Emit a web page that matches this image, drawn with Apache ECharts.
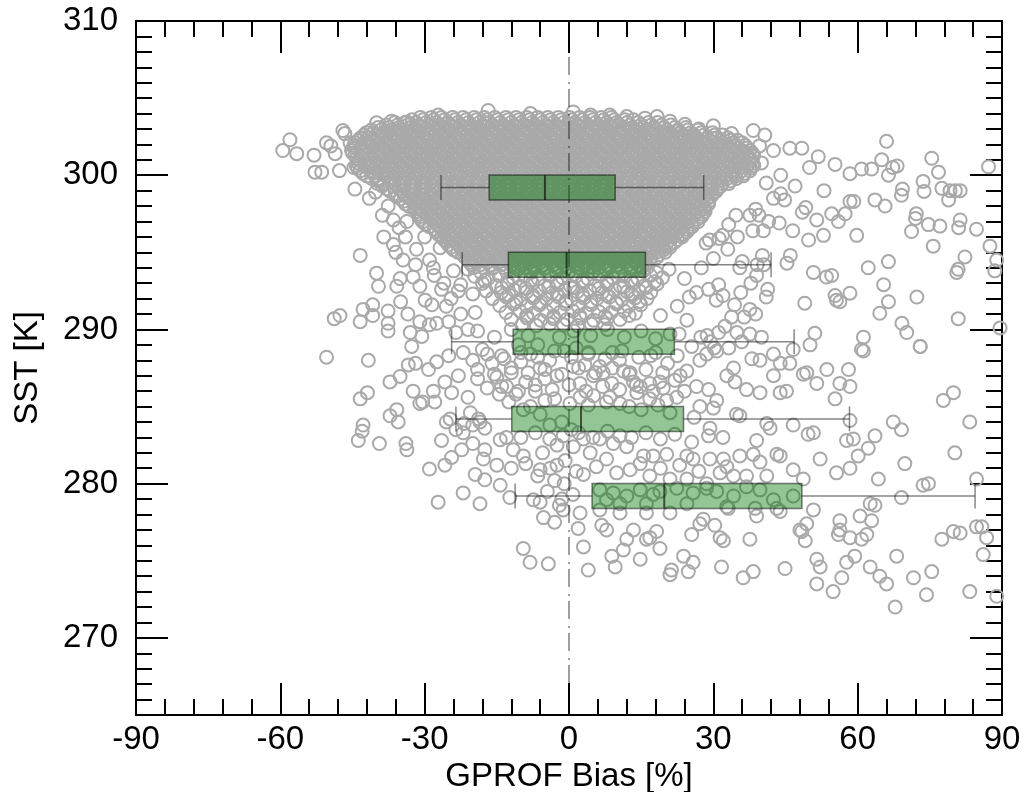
<!DOCTYPE html>
<html>
<head>
<meta charset="utf-8">
<title>GPROF bias vs SST</title>
<script src="https://cdn.jsdelivr.net/npm/echarts@6/dist/echarts.min.js"></script>
<style>
  html, body { margin: 0; padding: 0; background: #fff; }
  #chart { width: 1024px; height: 792px; }
</style>
</head>
<body>
<div id="chart"></div>
<script>
// axis ticks
var xTicks = [-90, -60, -30, 0, 30, 60, 90];
var yTicks = [270, 280, 290, 300, 310];
var zeroLine = [[0, 265], [0, 310]];

// box statistics per SST bin (bias %)
var boxSST = [299.2, 294.2, 289.2, 284.2, 279.2];
var whiskerLow = [-26.6, -22.2, -24.4, -23.5, -11.2];
var q1 = [-16.6, -12.6, -11.6, -11.9, 4.8];
var median = [-5.0, -0.5, 1.9, 2.5, 19.8];
var q3 = [9.6, 15.9, 21.9, 23.8, 48.4];
var whiskerHigh = [28.0, 42.0, 46.8, 58.3, 84.4];

// dense cloud, row by row: SST value and the biases in that row
var coreSST = [303.75, 303.42, 303.09, 302.76, 302.43, 302.10, 301.77, 301.44, 301.11, 300.78,
  300.45, 300.12, 299.79, 299.46, 299.13, 298.80, 298.47, 298.14, 297.81, 297.48,
  297.15, 296.82, 296.49, 296.16, 295.83, 295.50, 295.17, 294.84, 294.51, 294.18];
var coreBias = [
  [-30.9, -28.6, -26.5, -24.2, -22.0, -19.7, -17.6, -15.4, -13.1, -11.0, -8.8, -6.5, -4.4, -2.2, 0.1, 2.2, 4.4, 6.7, 8.8],
  [-36.2, -34.1, -31.8, -29.7, -27.5, -25.2, -23.1, -20.9, -18.6, -16.5, -14.3, -12.0, -9.9, -7.7, -5.4, -3.3, -1.1, 1.2, 3.3, 5.5, 7.8, 9.9, 12.1, 14.4, 16.5, 18.4],
  [-39.7, -37.4, -35.3, -33.0, -30.8, -28.5, -26.4, -24.2, -21.9, -19.8, -17.6, -15.3, -13.2, -11.0, -8.7, -6.6, -4.4, -2.1, 0.0, 2.2, 4.5, 6.6, 8.8, 11.1, 13.2, 15.4, 17.7, 19.8, 22.0, 24.3],
  [-42.1, -40.6, -38.5, -36.2, -34.1, -31.9, -29.6, -27.5, -25.3, -23.0, -20.9, -18.7, -16.4, -14.3, -12.1, -9.8, -7.7, -5.5, -3.2, -1.1, 1.1, 3.4, 5.5, 7.7, 10.0, 12.1, 14.3, 16.6, 18.7, 20.9, 23.2, 25.3, 27.5, 29.8],
  [-43.2, -41.7, -39.6, -37.3, -35.2, -33.0, -30.7, -28.6, -26.4, -24.1, -22.0, -19.8, -17.5, -15.4, -13.2, -10.9, -8.8, -6.6, -4.3, -2.2, 0.0, 2.3, 4.4, 6.6, 8.9, 11.0, 13.2, 15.5, 17.6, 19.8, 22.1, 24.2, 26.4, 28.7, 30.8, 33.0],
  [-44.4, -42.5, -40.7, -38.4, -36.3, -34.1, -31.8, -29.7, -27.5, -25.2, -23.1, -20.9, -18.6, -16.5, -14.3, -12.0, -9.9, -7.7, -5.4, -3.3, -1.1, 1.2, 3.3, 5.5, 7.8, 9.9, 12.1, 14.4, 16.5, 18.7, 21.0, 23.1, 25.3, 27.6, 29.7, 31.9, 34.2, 36.0],
  [-44.6, -41.8, -39.5, -37.4, -35.2, -32.9, -30.8, -28.6, -26.3, -24.2, -22.0, -19.7, -17.6, -15.4, -13.1, -11.0, -8.8, -6.5, -4.4, -2.2, 0.1, 2.2, 4.4, 6.7, 8.8, 11.0, 13.3, 15.4, 17.6, 19.9, 22.0, 24.2, 26.5, 28.6, 30.8, 33.1, 35.2, 37.0],
  [-45.0, -42.9, -40.6, -38.5, -36.3, -34.0, -31.9, -29.7, -27.4, -25.3, -23.1, -20.8, -18.7, -16.5, -14.2, -12.1, -9.9, -7.6, -5.5, -3.3, -1.0, 1.1, 3.3, 5.6, 7.7, 9.9, 12.2, 14.3, 16.5, 18.8, 20.9, 23.1, 25.4, 27.5, 29.7, 32.0, 34.1, 36.3, 38.1],
  [-44.1, -41.8, -39.7, -37.4, -35.2, -33.1, -30.8, -28.6, -26.5, -24.2, -22.0, -19.9, -17.6, -15.4, -13.3, -11.0, -8.8, -6.7, -4.4, -2.2, -0.1, 2.2, 4.4, 6.5, 8.8, 11.0, 13.1, 15.4, 17.6, 19.7, 22.0, 24.2, 26.3, 28.6, 30.8, 32.9, 35.2, 37.6],
  [-43.8, -40.7, -38.6, -36.3, -34.1, -32.0, -29.7, -27.5, -25.4, -23.1, -20.9, -18.8, -16.5, -14.3, -12.2, -9.9, -7.7, -5.6, -3.3, -1.1, 1.0, 3.3, 5.5, 7.6, 9.9, 12.1, 14.2, 16.5, 18.7, 20.8, 23.1, 25.3, 27.4, 29.7, 31.9, 34.0, 36.3, 38.2],
  [-43.9, -41.7, -39.6, -37.3, -35.1, -33.0, -30.7, -28.5, -26.4, -24.1, -21.9, -19.8, -17.5, -15.3, -13.2, -10.9, -8.7, -6.6, -4.3, -2.1, 0.0, 2.3, 4.5, 6.6, 8.9, 11.1, 13.2, 15.5, 17.7, 19.8, 22.1, 24.3, 26.4, 28.7, 30.9, 33.0, 35.3, 37.7],
  [-42.8, -40.8, -38.5, -36.4, -34.2, -31.9, -29.8, -27.6, -25.3, -23.2, -21.0, -18.7, -16.6, -14.4, -12.1, -10.0, -7.8, -5.5, -3.4, -1.2, 1.1, 3.2, 5.4, 7.7, 9.8, 12.0, 14.3, 16.4, 18.6, 20.9, 23.0, 25.2, 27.5, 29.6, 31.8, 34.1, 36.4],
  [-41.0, -39.6, -37.5, -35.2, -33.1, -30.9, -28.6, -26.5, -24.3, -22.0, -19.9, -17.7, -15.4, -13.3, -11.1, -8.8, -6.7, -4.5, -2.2, -0.1, 2.1, 4.4, 6.5, 8.7, 11.0, 13.1, 15.3, 17.6, 19.7, 21.9, 24.2, 26.3, 28.5, 30.8, 32.9, 34.8],
  [-39.8, -38.5, -36.3, -34.2, -31.9, -29.7, -27.6, -25.4, -23.1, -21.0, -18.8, -16.5, -14.4, -12.2, -9.9, -7.8, -5.6, -3.3, -1.2, 1.0, 3.3, 5.4, 7.6, 9.9, 12.0, 14.2, 16.5, 18.6, 20.8, 23.1, 25.2, 27.4, 29.7, 31.8, 33.2],
  [-37.9, -35.3, -33.1, -30.8, -28.6, -26.5, -24.2, -22.0, -19.9, -17.6, -15.4, -13.3, -11.0, -8.8, -6.7, -4.4, -2.2, -0.1, 2.2, 4.4, 6.5, 8.8, 11.0, 13.1, 15.4, 17.6, 19.7, 22.0, 24.2, 26.3, 28.6, 30.9],
  [-36.1, -34.2, -32.0, -29.7, -27.6, -25.4, -23.1, -21.0, -18.8, -16.5, -14.4, -12.2, -9.9, -7.8, -5.6, -3.3, -1.2, 1.0, 3.3, 5.4, 7.6, 9.9, 12.0, 14.2, 16.5, 18.6, 20.8, 23.1, 25.2, 27.4, 29.8],
  [-35.0, -33.0, -30.8, -28.5, -26.4, -24.2, -21.9, -19.8, -17.6, -15.3, -13.2, -11.0, -8.7, -6.6, -4.4, -2.1, 0.0, 2.2, 4.5, 6.6, 8.8, 11.1, 13.2, 15.4, 17.7, 19.8, 22.0, 24.3, 26.4, 28.7],
  [-34.0, -31.9, -29.7, -27.4, -25.3, -23.1, -20.8, -18.7, -16.5, -14.2, -12.1, -9.9, -7.6, -5.5, -3.3, -1.0, 1.1, 3.3, 5.6, 7.7, 9.9, 12.2, 14.3, 16.5, 18.8, 20.9, 23.1, 25.4, 27.5, 29.0],
  [-32.1, -30.8, -28.6, -26.3, -24.2, -22.0, -19.7, -17.6, -15.4, -13.1, -11.0, -8.8, -6.5, -4.4, -2.2, 0.1, 2.2, 4.4, 6.7, 8.8, 11.0, 13.3, 15.4, 17.6, 19.9, 22.0, 24.2, 26.5, 28.2],
  [-31.1, -29.7, -27.5, -25.2, -23.1, -20.9, -18.6, -16.5, -14.3, -12.0, -9.9, -7.7, -5.4, -3.3, -1.1, 1.2, 3.3, 5.5, 7.8, 9.9, 12.1, 14.4, 16.5, 18.7, 21.0, 23.1, 25.3, 27.7],
  [-30.8, -28.5, -26.4, -24.2, -21.9, -19.8, -17.6, -15.3, -13.2, -11.0, -8.7, -6.6, -4.4, -2.1, 0.0, 2.2, 4.5, 6.6, 8.8, 11.1, 13.2, 15.4, 17.7, 19.8, 22.0, 24.3, 26.6],
  [-29.8, -27.5, -25.3, -23.0, -20.9, -18.7, -16.4, -14.3, -12.1, -9.8, -7.7, -5.5, -3.2, -1.1, 1.1, 3.4, 5.5, 7.7, 10.0, 12.1, 14.3, 16.6, 18.7, 20.9, 23.2, 25.6],
  [-28.0, -26.4, -24.1, -22.0, -19.8, -17.5, -15.4, -13.2, -10.9, -8.8, -6.6, -4.3, -2.2, 0.0, 2.3, 4.4, 6.6, 8.9, 11.0, 13.2, 15.5, 17.6, 19.8, 22.1, 24.6],
  [-27.1, -25.2, -23.1, -20.9, -18.6, -16.5, -14.3, -12.0, -9.9, -7.7, -5.4, -3.3, -1.1, 1.2, 3.3, 5.5, 7.8, 9.9, 12.1, 14.4, 16.5, 18.7, 21.0, 23.6],
  [-26.0, -24.2, -22.0, -19.7, -17.6, -15.4, -13.1, -11.0, -8.8, -6.5, -4.4, -2.2, 0.1, 2.2, 4.4, 6.7, 8.8, 11.0, 13.3, 15.4, 17.6, 19.9, 22.5],
  [-25.1, -23.0, -20.8, -18.7, -16.5, -14.2, -12.1, -9.9, -7.6, -5.5, -3.3, -1.0, 1.1, 3.3, 5.6, 7.7, 9.9, 12.2, 14.3, 16.5, 18.8, 20.9],
  [-24.0, -21.9, -19.8, -17.5, -15.4, -13.2, -10.9, -8.8, -6.6, -4.3, -2.2, 0.0, 2.3, 4.4, 6.6, 8.9, 11.0, 13.2, 15.5, 17.6, 19.7],
  [-22.1, -20.8, -18.6, -16.5, -14.3, -12.0, -9.9, -7.7, -5.4, -3.3, -1.1, 1.2, 3.3, 5.5, 7.8, 9.9, 12.1, 14.4, 16.5, 18.6],
  [-21.0, -19.7, -17.6, -15.3, -13.2, -11.0, -8.7, -6.6, -4.4, -2.1, 0.0, 2.2, 4.5, 6.6, 8.8, 11.1, 13.2, 15.4, 16.9],
  [-20.2, -18.5, -16.4, -14.1, -12.0, -9.8, -7.5, -5.4, -3.2, -0.9, 1.2, 3.4, 5.7, 7.8, 10.0, 12.3, 14.4, 16.0]
];

// second set of rows in the dense cloud, between the rows above
var coreSST2 = [303.59, 303.26, 302.93, 302.60, 302.27, 301.94, 301.61, 301.28, 300.95, 300.62,
  300.29, 299.96, 299.63, 299.30, 298.97, 298.64, 298.31, 297.98, 297.65, 297.32,
  296.99, 296.66, 296.33, 296.00, 295.67, 295.34, 295.01, 294.68, 294.35, 294.02];
var coreBias2 = [
  [-32.6, -30.3, -28.1, -25.9, -23.7, -21.4, -19.2, -17.0, -14.8, -12.6, -10.4, -8.2, -6.0, -3.8, -1.6, 0.6, 2.8, 5.0, 7.2, 9.4, 11.6, 13.4],
  [-38.0, -35.6, -33.5, -31.2, -29.1, -26.9, -24.6, -22.5, -20.3, -18.0, -15.9, -13.7, -11.4, -9.3, -7.1, -4.8, -2.7, -0.5, 1.8, 3.9, 6.1, 8.4, 10.5, 12.7, 15.0, 17.1, 19.3, 21.2],
  [-41.1, -39.1, -36.8, -34.7, -32.5, -30.2, -28.1, -25.9, -23.6, -21.5, -19.3, -17.0, -14.9, -12.7, -10.4, -8.3, -6.1, -3.8, -1.7, 0.5, 2.8, 4.9, 7.1, 9.4, 11.5, 13.7, 16.0, 18.1, 20.3, 22.6, 24.7, 26.8],
  [-42.6, -40.0, -37.9, -35.7, -33.4, -31.3, -29.1, -26.8, -24.7, -22.5, -20.2, -18.1, -15.9, -13.6, -11.5, -9.3, -7.0, -4.9, -2.7, -0.4, 1.7, 3.9, 6.2, 8.3, 10.5, 12.8, 14.9, 17.1, 19.4, 21.5, 23.7, 26.0, 28.1, 30.3, 31.9],
  [-43.8, -41.1, -38.9, -36.8, -34.6, -32.3, -30.2, -28.0, -25.7, -23.6, -21.4, -19.1, -17.0, -14.8, -12.5, -10.4, -8.2, -5.9, -3.8, -1.6, 0.7, 2.8, 5.0, 7.3, 9.4, 11.6, 13.9, 16.0, 18.2, 20.5, 22.6, 24.8, 27.1, 29.2, 31.4, 33.6, 35.0],
  [-44.7, -42.0, -40.1, -37.9, -35.7, -33.5, -31.3, -29.1, -26.9, -24.7, -22.5, -20.3, -18.1, -15.9, -13.7, -11.5, -9.3, -7.1, -4.9, -2.7, -0.5, 1.7, 3.9, 6.1, 8.3, 10.5, 12.7, 14.9, 17.1, 19.3, 21.5, 23.7, 25.9, 28.1, 30.3, 32.5, 34.7, 36.6],
  [-45.2, -43.2, -41.2, -39.0, -36.8, -34.6, -32.4, -30.2, -28.0, -25.8, -23.6, -21.4, -19.2, -17.0, -14.8, -12.6, -10.4, -8.2, -6.0, -3.8, -1.6, 0.6, 2.8, 5.0, 7.2, 9.4, 11.6, 13.8, 16.0, 18.2, 20.4, 22.6, 24.8, 27.0, 29.2, 31.4, 33.6, 35.8, 37.6],
  [-44.5, -42.3, -40.1, -37.9, -35.7, -33.5, -31.3, -29.1, -26.9, -24.7, -22.5, -20.3, -18.1, -15.9, -13.7, -11.5, -9.3, -7.1, -4.9, -2.7, -0.5, 1.7, 3.9, 6.1, 8.3, 10.5, 12.7, 14.9, 17.1, 19.3, 21.5, 23.7, 25.9, 28.1, 30.3, 32.5, 34.7, 36.9, 38.4],
  [-43.6, -41.3, -39.1, -36.9, -34.7, -32.5, -30.3, -28.1, -25.9, -23.7, -21.5, -19.3, -17.1, -14.9, -12.7, -10.5, -8.3, -6.1, -3.9, -1.7, 0.5, 2.7, 4.9, 7.1, 9.3, 11.5, 13.7, 15.9, 18.1, 20.3, 22.5, 24.7, 26.9, 29.1, 31.3, 33.5, 35.7, 37.9],
  [-44.2, -42.1, -40.0, -37.8, -35.6, -33.4, -31.2, -29.0, -26.8, -24.6, -22.4, -20.2, -18.0, -15.8, -13.6, -11.4, -9.2, -7.0, -4.8, -2.6, -0.4, 1.8, 4.0, 6.2, 8.4, 10.6, 12.8, 15.0, 17.2, 19.4, 21.6, 23.8, 26.0, 28.2, 30.4, 32.6, 34.8, 37.0, 38.4],
  [-43.4, -41.1, -38.9, -36.7, -34.5, -32.3, -30.1, -27.9, -25.7, -23.5, -21.3, -19.1, -16.9, -14.7, -12.5, -10.3, -8.1, -5.9, -3.7, -1.5, 0.7, 2.9, 5.1, 7.3, 9.5, 11.7, 13.9, 16.1, 18.3, 20.5, 22.7, 24.9, 27.1, 29.3, 31.5, 33.7, 35.9, 37.6],
  [-42.0, -40.2, -38.0, -35.8, -33.6, -31.4, -29.2, -27.0, -24.8, -22.6, -20.4, -18.2, -16.0, -13.8, -11.6, -9.4, -7.2, -5.0, -2.8, -0.6, 1.6, 3.8, 6.0, 8.2, 10.4, 12.6, 14.8, 17.0, 19.2, 21.4, 23.6, 25.8, 28.0, 30.2, 32.4, 34.6, 36.2],
  [-39.6, -36.9, -34.7, -32.5, -30.3, -28.1, -25.9, -23.7, -21.5, -19.3, -17.1, -14.9, -12.7, -10.5, -8.3, -6.1, -3.9, -1.7, 0.5, 2.7, 4.9, 7.1, 9.3, 11.5, 13.7, 15.9, 18.1, 20.3, 22.5, 24.7, 26.9, 29.1, 31.3, 33.5],
  [-38.8, -36.6, -34.4, -32.2, -30.0, -27.8, -25.6, -23.4, -21.2, -19.0, -16.8, -14.6, -12.4, -10.2, -8.0, -5.8, -3.6, -1.4, 0.8, 3.0, 5.2, 7.4, 9.6, 11.8, 14.0, 16.2, 18.4, 20.6, 22.8, 25.0, 27.2, 29.4, 31.6],
  [-37.2, -34.7, -32.5, -30.3, -28.1, -25.9, -23.7, -21.5, -19.3, -17.1, -14.9, -12.7, -10.5, -8.3, -6.1, -3.9, -1.7, 0.5, 2.7, 4.9, 7.1, 9.3, 11.5, 13.7, 15.9, 18.1, 20.3, 22.5, 24.7, 26.9, 29.1, 30.6],
  [-35.6, -33.6, -31.4, -29.2, -27.0, -24.8, -22.6, -20.4, -18.2, -16.0, -13.8, -11.6, -9.4, -7.2, -5.0, -2.8, -0.6, 1.6, 3.8, 6.0, 8.2, 10.4, 12.6, 14.8, 17.0, 19.2, 21.4, 23.6, 25.8, 28.0, 29.6],
  [-34.4, -32.4, -30.2, -28.0, -25.8, -23.6, -21.4, -19.2, -17.0, -14.8, -12.6, -10.4, -8.2, -6.0, -3.8, -1.6, 0.6, 2.8, 5.0, 7.2, 9.4, 11.6, 13.8, 16.0, 18.2, 20.4, 22.6, 24.8, 27.0, 29.0],
  [-33.2, -31.3, -29.1, -26.9, -24.7, -22.5, -20.3, -18.1, -15.9, -13.7, -11.5, -9.3, -7.1, -4.9, -2.7, -0.5, 1.7, 3.9, 6.1, 8.3, 10.5, 12.7, 14.9, 17.1, 19.3, 21.5, 23.7, 25.9, 28.1],
  [-31.6, -30.2, -28.0, -25.8, -23.6, -21.4, -19.2, -17.0, -14.8, -12.6, -10.4, -8.2, -6.0, -3.8, -1.6, 0.6, 2.8, 5.0, 7.2, 9.4, 11.6, 13.8, 16.0, 18.2, 20.4, 22.6, 24.8, 27.0, 28.3],
  [-30.9, -29.1, -26.9, -24.7, -22.5, -20.3, -18.1, -15.9, -13.7, -11.5, -9.3, -7.1, -4.9, -2.7, -0.5, 1.7, 3.9, 6.1, 8.3, 10.5, 12.7, 14.9, 17.1, 19.3, 21.5, 23.7, 25.9, 27.6],
  [-30.4, -28.0, -25.8, -23.6, -21.4, -19.2, -17.0, -14.8, -12.6, -10.4, -8.2, -6.0, -3.8, -1.6, 0.6, 2.8, 5.0, 7.2, 9.4, 11.6, 13.8, 16.0, 18.2, 20.4, 22.6, 24.8, 26.8],
  [-29.0, -26.9, -24.7, -22.5, -20.3, -18.1, -15.9, -13.7, -11.5, -9.3, -7.1, -4.9, -2.7, -0.5, 1.7, 3.9, 6.1, 8.3, 10.5, 12.7, 14.9, 17.1, 19.3, 21.5, 23.7, 25.6],
  [-27.6, -25.8, -23.6, -21.4, -19.2, -17.0, -14.8, -12.6, -10.4, -8.2, -6.0, -3.8, -1.6, 0.6, 2.8, 5.0, 7.2, 9.4, 11.6, 13.8, 16.0, 18.2, 20.4, 22.6, 24.5],
  [-26.5, -24.7, -22.5, -20.3, -18.1, -15.9, -13.7, -11.5, -9.3, -7.1, -4.9, -2.7, -0.5, 1.7, 3.9, 6.1, 8.3, 10.5, 12.7, 14.9, 17.1, 19.3, 21.5, 23.5],
  [-25.5, -23.6, -21.4, -19.2, -17.0, -14.8, -12.6, -10.4, -8.2, -6.0, -3.8, -1.6, 0.6, 2.8, 5.0, 7.2, 9.4, 11.6, 13.8, 16.0, 18.2, 20.4, 22.0],
  [-24.5, -22.5, -20.3, -18.1, -15.9, -13.7, -11.5, -9.3, -7.1, -4.9, -2.7, -0.5, 1.7, 3.9, 6.1, 8.3, 10.5, 12.7, 14.9, 17.1, 19.3, 21.0],
  [-23.1, -21.4, -19.2, -17.0, -14.8, -12.6, -10.4, -8.2, -6.0, -3.8, -1.6, 0.6, 2.8, 5.0, 7.2, 9.4, 11.6, 13.8, 16.0, 18.2, 20.0],
  [-21.6, -20.3, -18.1, -15.9, -13.7, -11.5, -9.3, -7.1, -4.9, -2.7, -0.5, 1.7, 3.9, 6.1, 8.3, 10.5, 12.7, 14.9, 17.1, 18.3],
  [-20.6, -19.2, -17.0, -14.8, -12.6, -10.4, -8.2, -6.0, -3.8, -1.6, 0.6, 2.8, 5.0, 7.2, 9.4, 11.6, 13.8, 16.0],
  [-19.8, -17.9, -15.8, -13.6, -11.4, -9.2, -7.0, -4.8, -2.6, -0.4, 1.8, 4.0, 6.2, 8.4, 10.6, 12.8, 15.0, 16.3]
];

// narrowing part of the cloud below the second box [bias %, SST K]
var neckBand = [
  [-21.0, 293.9], [-18.3, 293.7], [-15.9, 293.95], [-13.0, 293.75], [-10.6, 293.9], [-7.9, 293.7], [-5.2, 293.95],
  [-2.8, 293.8], [-0.1, 293.7], [2.6, 293.95], [5.0, 293.75], [7.7, 293.9], [10.3, 293.7], [12.9, 293.95],
  [15.4, 293.8], [18.1, 293.7], [20.8, 293.9],
  [-19.6, 293.45], [-16.8, 293.3], [-14.5, 293.5], [-11.6, 293.35], [-9.2, 293.45], [-6.4, 293.3], [-3.9, 293.5],
  [-1.3, 293.35], [1.4, 293.45], [3.9, 293.3], [6.5, 293.5], [9.1, 293.35], [11.6, 293.45], [14.3, 293.3],
  [16.9, 293.5], [19.4, 293.35],
  [-17.5, 293.15], [-12.8, 293.1], [-8.0, 293.2], [-2.6, 293.1], [2.8, 293.15], [7.8, 293.1], [12.9, 293.2], [17.8, 293.1],
  [-22.5, 292.9], [-18.0, 293.0], [-15.2, 292.85], [-12.8, 292.95], [-10.1, 292.8], [-7.6, 293.0], [-5.0, 292.85],
  [-2.3, 292.95], [0.3, 292.8], [2.9, 293.0], [5.4, 292.85], [8.0, 292.95], [10.7, 292.8], [13.2, 293.0],
  [15.8, 292.85], [18.3, 292.95],
  [-14.0, 292.7], [-9.0, 292.65], [-4.2, 292.75], [1.0, 292.7], [6.2, 292.65], [11.4, 292.75], [16.0, 292.7],
  [-17.2, 292.5], [-14.1, 292.4], [-11.4, 292.55], [-8.8, 292.45], [-6.2, 292.5], [-3.5, 292.4], [-0.9, 292.55],
  [1.7, 292.45], [4.3, 292.5], [6.9, 292.4], [9.5, 292.55], [12.1, 292.45], [14.6, 292.5], [17.0, 292.4],
  [-12.5, 292.25], [-7.5, 292.2], [-2.5, 292.3], [2.8, 292.25], [7.9, 292.2], [13.0, 292.3],
  [-15.9, 292.0], [-13.0, 292.1], [-10.0, 291.95], [-7.4, 292.05], [-4.7, 292.0], [-2.1, 292.1], [0.5, 291.95],
  [3.1, 292.05], [5.8, 292.0], [8.4, 292.1], [11.0, 291.95], [13.7, 292.05], [16.2, 292.0],
  [-11.0, 291.8], [-5.8, 291.75], [-0.6, 291.85], [4.6, 291.8], [9.8, 291.75], [14.6, 291.8],
  [-14.4, 291.55], [-11.5, 291.65], [-8.8, 291.5], [-6.1, 291.6], [-3.3, 291.55], [-0.7, 291.65], [1.9, 291.5],
  [4.6, 291.6], [7.2, 291.55], [9.9, 291.65], [12.4, 291.5], [14.9, 291.6],
  [-13.1, 291.1], [-10.2, 291.2], [-7.4, 291.05], [-4.6, 291.15], [-1.9, 291.1], [0.8, 291.2], [3.5, 291.05],
  [6.2, 291.15], [8.8, 291.1], [11.5, 291.2], [13.8, 291.05],
  [-8.8, 290.9], [-3.2, 290.85], [2.2, 290.9], [7.5, 290.85], [12.5, 290.9],
  [-12.0, 290.65], [-8.7, 290.75], [-5.9, 290.6], [-3.2, 290.7], [-0.4, 290.65], [2.4, 290.75], [5.1, 290.6],
  [7.9, 290.7], [10.6, 290.65],
  [-9.8, 290.3], [-6.8, 290.25], [-4.0, 290.35], [-1.1, 290.3], [1.8, 290.25], [4.6, 290.35], [7.4, 290.3]
];

// crowded part around the third and fourth boxes [bias %, SST K]
var centreBand = [
  [-17.0, 288.4], [-13.5, 288.1], [-10.0, 288.5], [-6.5, 288.2], [-3.0, 288.6], [0.5, 288.2], [4.0, 288.5],
  [7.5, 288.1], [11.0, 288.6], [14.5, 288.2], [18.0, 288.5], [22.5, 288.3],
  [-19.0, 287.4], [-15.5, 287.1], [-12.0, 287.5], [-8.5, 287.2], [-5.0, 287.4], [-1.5, 287.1], [2.0, 287.5],
  [5.5, 287.2], [9.0, 287.5], [12.5, 287.1], [16.0, 287.4], [19.5, 287.2],
  [-14.0, 286.3], [-10.5, 286.0], [-7.0, 286.4], [-3.5, 286.1], [0.0, 286.4], [3.5, 286.0], [7.0, 286.3],
  [10.5, 286.1], [14.0, 286.4], [17.5, 286.0], [24.0, 286.0],
  [-12.5, 285.3], [-8.0, 285.0], [-5.0, 285.4], [4.0, 285.1], [8.5, 285.6], [12.5, 285.0], [18.5, 285.1],
  [-10.0, 283.0], [-7.0, 283.3], [-4.0, 282.9], [2.0, 283.3], [5.0, 283.0], [8.0, 283.4], [13.0, 283.0],
  [16.0, 283.3], [19.0, 282.9], [22.0, 283.2], [25.5, 282.7], [32.0, 283.0],
  [-12.0, 281.0], [-9.0, 281.3], [-6.0, 280.9], [-2.5, 281.2], [3.0, 280.6], [19.0, 281.0], [23.0, 281.2],
  [27.0, 280.8], [-9.5, 284.8], [-14.5, 285.8], [15.0, 284.8], [21.0, 284.6], [26.0, 284.3]
];

// scattered points [bias %, SST K]
var leftEdge = [
  [-58.0, 302.3], [-59.5, 301.6], [-56.6, 301.4], [-53.0, 301.3], [-50.4, 302.1], [-52.8, 300.2],
  [-51.4, 300.2], [-48.6, 301.4], [-46.6, 302.7], [-47.7, 300.3], [-45.5, 302.1], [-44.7, 300.5],
  [-43.4, 302.4], [-40.0, 303.4], [-36.9, 303.5], [-33.7, 303.45], [-27.2, 303.9], [-16.8, 304.2],
  [-8.0, 304.0], [0.9, 304.1], [4.5, 303.9], [-49.5, 301.9], [-47.0, 302.9], [-44.5, 299.1],
  [-41.5, 298.5], [-37.6, 298.0], [-36.5, 297.1], [-35.3, 296.6], [-34.0, 296.0], [-33.7, 297.0],
  [-43.4, 294.8], [-40.0, 293.65], [-39.6, 292.8], [-35.8, 292.8], [-35.1, 293.3], [-32.4, 293.4],
  [-31.7, 295.2], [-31.9, 294.2], [-31.0, 292.8], [-29.9, 291.9], [-28.5, 291.6], [-27.5, 290.4],
  [-47.6, 290.9], [-48.8, 290.7], [-43.4, 290.5], [-42.8, 291.3], [-40.8, 291.6], [-40.8, 290.9],
  [-37.6, 291.2], [-37.6, 290.4], [-37.6, 289.9], [-33.0, 289.8], [-30.6, 289.55], [-32.7, 288.9],
  [-50.4, 288.2], [-36.0, 295.0], [-34.5, 294.5], [-30.0, 296.0], [-29.0, 294.5], [-28.0, 293.5],
  [-26.5, 292.6], [-25.5, 291.5], [-24.0, 293.8], [-23.0, 292.5], [-26.8, 295.3], [-28.2, 294.0],
  [-25.0, 290.5], [-22.5, 291.0], [-23.5, 289.8], [-21.0, 290.0], [-33.5, 291.0], [-31.0, 290.5],
  [-29.0, 290.3], [-35.0, 291.8], [-38.5, 296.0], [-36.5, 295.5], [-38.8, 297.4], [-40.2, 298.9],
  [-24.5, 292.0], [-26.0, 293.0], [-20.0, 292.3], [-19.5, 291.1]
];
var rightEdge = [
  [8.5, 303.9], [12.0, 303.8], [15.8, 303.7], [18.3, 303.8], [21.0, 303.5], [24.1, 303.3], [27.0, 303.0],
  [30.0, 303.2], [33.8, 302.7], [38.3, 302.9], [40.7, 302.6], [45.9, 301.75], [48.4, 301.75], [51.8, 301.2],
  [55.3, 300.7], [58.4, 300.1], [60.8, 300.4], [62.9, 300.4], [66.0, 302.2], [65.0, 301.0],
  [67.3, 300.5], [68.2, 300.6], [66.4, 300.0], [75.4, 301.1], [76.8, 300.2], [73.6, 299.6],
  [73.8, 298.95], [77.5, 299.15], [78.9, 298.4], [79.2, 299.0], [80.3, 299.0], [81.3, 299.0],
  [87.2, 300.55], [69.1, 298.7], [69.3, 299.1], [63.6, 298.4], [65.7, 298.0], [58.4, 298.3],
  [59.2, 298.3], [57.4, 297.5], [56.0, 297.0], [54.6, 297.5], [59.8, 296.1], [72.2, 297.5],
  [72.0, 297.2], [71.2, 296.35], [74.7, 296.8], [77.1, 296.7], [75.7, 295.4], [81.3, 297.1],
  [81.0, 296.6], [84.7, 296.5], [87.5, 295.4], [88.9, 294.5], [88.5, 293.8], [80.6, 293.7],
  [80.9, 293.9], [82.3, 294.7], [80.9, 290.7], [89.6, 290.1], [66.4, 294.4], [62.2, 294.0],
  [65.4, 292.9], [66.4, 291.8], [64.6, 291.05], [58.4, 292.35], [55.3, 292.2], [55.6, 291.9],
  [56.3, 291.8], [72.3, 292.1], [69.2, 290.4], [70.2, 289.8], [73.0, 288.9], [61.2, 289.5],
  [60.8, 288.7], [50.8, 293.7], [53.5, 293.4], [54.6, 293.5], [49.0, 291.7], [51.1, 289.75],
  [52.9, 296.1], [51.5, 297.1], [48.5, 297.6], [49.2, 297.9], [42.5, 298.5], [44.8, 298.4],
  [44.0, 298.8], [39.5, 297.4], [38.8, 297.8], [37.6, 297.4], [38.2, 296.4], [40.4, 296.4],
  [41.5, 297.0], [43.7, 296.9], [35.0, 296.0], [33.2, 296.8], [34.7, 297.4], [31.9, 296.1],
  [31.2, 295.9], [29.2, 295.8], [28.5, 295.6], [46.0, 294.8], [45.3, 294.3], [40.2, 294.8],
  [39.1, 294.2], [40.5, 294.2], [36.0, 294.4], [35.5, 294.0], [39.0, 293.5], [37.8, 293.0],
  [35.7, 292.4], [41.0, 292.1], [41.3, 292.6], [32.0, 292.2], [30.6, 291.9], [34.4, 291.6],
  [37.6, 291.3], [36.4, 290.8], [26.5, 292.4], [29.0, 292.6], [31.1, 292.9], [25.0, 292.1],
  [33.8, 290.8], [32.4, 290.2], [31.1, 289.8], [34.9, 289.8], [37.6, 289.7], [40.0, 289.5],
  [38.8, 291.0], [28.7, 289.6], [29.4, 289.2], [30.2, 288.8], [33.2, 288.8], [35.9, 289.2],
  [21.0, 289.7], [22.9, 289.7], [25.5, 288.9], [27.4, 289.5], [41.0, 299.5], [44.0, 300.0],
  [47.0, 299.3], [50.0, 300.5], [53.0, 299.0], [46.5, 296.4], [49.8, 295.8], [40.0, 300.8],
  [42.5, 301.6], [39.6, 301.9], [30.0, 294.6], [27.5, 294.0], [24.0, 293.3], [22.5, 291.5],
  [24.5, 290.6], [19.0, 290.9], [33.0, 295.2]
];
var midBand = [
  [-41.7, 288.0], [-33.4, 287.7], [-31.9, 287.8], [-29.2, 287.4], [-27.5, 287.9], [-37.2, 286.6],
  [-35.1, 286.95], [-32.4, 286.0], [-31.0, 285.2], [-30.4, 285.3], [-27.9, 285.3], [-28.2, 286.0],
  [-25.8, 286.6], [-24.4, 285.9], [-41.9, 285.9], [-43.4, 285.5], [-37.2, 284.4], [-35.8, 284.8],
  [-35.5, 284.0], [-42.8, 283.8], [-43.0, 283.4], [-43.8, 282.8], [-39.4, 282.6], [-33.9, 282.6],
  [-33.7, 282.2], [-26.5, 282.8], [-24.7, 284.2], [-22.3, 282.2], [-24.4, 281.7], [-25.8, 281.2],
  [-29.0, 280.95], [-17.5, 282.2], [-17.5, 283.6], [-14.3, 282.85], [-11.6, 282.2], [-9.5, 281.8],
  [-3.9, 281.0], [-22, 288.5], [-20, 288.0], [-18, 288.7], [-16, 287.8], [-14, 288.3], [-12, 287.2],
  [-10, 287.9], [-8, 288.4], [-6, 287.5], [-19, 286.8], [-17, 286.2], [-15, 286.9], [-13, 286.3],
  [-11, 285.8], [-9, 286.6], [-7, 286.0], [-5, 286.8], [-21, 285.6], [-23, 287.0], [-25, 288.3],
  [-4, 288.0], [-3, 285.5], [-20.5, 284.6], [-18.5, 284.0], [-22, 283.3], [-20, 282.6], [-17.8, 281.6],
  [-15, 281.2], [-13, 283.0], [-19.5, 280.6], [-25.5, 284.0], [-23.5, 283.5], [-21.8, 283.9],
  [-20.0, 283.8], [-18.8, 284.2], [0.9, 287.6], [3.3, 287.7], [6.4, 287.6], [2.3, 286.5],
  [5.1, 287.0], [7.1, 287.2], [8.9, 286.5], [11.3, 287.3], [12.7, 287.2], [13.4, 286.6], [14.8, 286.3],
  [16.8, 286.5], [18.9, 286.6], [19.6, 286.2], [22.0, 286.7], [23.1, 287.0], [24.5, 287.3], [27.2, 288.0],
  [28.6, 288.4], [30.7, 288.6], [26.5, 286.3], [29.0, 286.1], [30.7, 285.4], [32.8, 287.0], [34.2, 287.5],
  [34.5, 286.6], [36.9, 286.1], [39.7, 285.9], [42.5, 287.0], [16.8, 285.5], [14.1, 285.9], [10.6, 285.2],
  [7.8, 285.3], [5.1, 285.7], [2.3, 285.6], [0.2, 285.2], [20.3, 285.4], [22.4, 285.6], [27.2, 285.0],
  [30.0, 284.9], [38.0, 288.1], [39.7, 288.0], [42.5, 288.4], [43.9, 287.8], [45.9, 287.8], [46.6, 288.7],
  [50.1, 289.0], [48.7, 287.1], [49.4, 287.2], [53.6, 287.4], [58.1, 287.4], [56.3, 286.5], [58.4, 286.3],
  [55.3, 285.5], [51.5, 286.5], [43.9, 285.9], [45.2, 286.0], [61.2, 288.6], [73.0, 288.9],
  [-2.0, 289.5], [1.0, 289.9], [4.5, 289.6], [8.0, 290.0], [11.5, 289.5], [15.0, 289.9], [18.0, 289.4],
  [-8.5, 289.6], [-12.0, 290.0], [-15.5, 289.5], [-19.0, 289.9], [-1.0, 288.6], [9.0, 288.5], [17.0, 288.3],
  [-2.5, 287.0], [1.5, 288.8], [4.0, 288.4], [10.5, 288.0], [-10.5, 289.0], [-6.5, 289.0], [20.5, 287.8]
];
var lowBand = [
  [-1.2, 283.1], [0.9, 282.4], [3.0, 282.9], [4.4, 282.0], [5.7, 281.1], [7.8, 281.6], [9.9, 280.7],
  [12.7, 280.9], [15.5, 281.8], [16.8, 280.5], [14.8, 281.3], [17.5, 281.8], [20.3, 281.9], [24.5, 281.8],
  [25.8, 281.6], [29.3, 281.6], [32.1, 281.6], [32.8, 281.1], [34.2, 280.5], [31.4, 280.7], [35.5, 281.8],
  [38.3, 281.9], [39.7, 281.4], [43.2, 281.9], [43.9, 281.8], [46.6, 280.9], [48.7, 280.3], [41.1, 280.5],
  [36.9, 280.5], [28.6, 280.0], [24.5, 280.3], [21.0, 280.3], [12.0, 282.4], [9.2, 282.6], [6.4, 282.9],
  [10.6, 283.1], [52.2, 281.6], [55.6, 280.7], [58.4, 281.0], [60.1, 281.8], [62.2, 282.3], [63.6, 283.1],
  [57.7, 282.8], [59.1, 282.9], [67.4, 284.0], [69.1, 283.5], [83.3, 284.0], [80.2, 282.0], [69.8, 281.3],
  [77.8, 285.4], [79.9, 285.9], [64.3, 280.3], [73.6, 279.9], [74.7, 280.0], [84.7, 280.3], [58.4, 284.1],
  [50.8, 283.3], [49.7, 283.2], [46.6, 283.8], [41.1, 283.9], [39.0, 282.8], [35.5, 284.4], [34.8, 284.5],
  [29.0, 283.1], [29.3, 283.6], [41.8, 283.6], [-1.5, 284.0], [0.5, 283.5], [-0.8, 281.5], [1.5, 280.8],
  [-1.0, 280.0], [0.8, 279.3], [-1.5, 279.0], [-6, 284.5], [-4, 283.8], [-2.5, 282.5], [-5.5, 282.0],
  [-3.0, 280.2], [-6.5, 280.5], [-4.5, 279.5], [-2.0, 278.6], [-6.0, 278.8], [-3.0, 277.5],
  [-22.0, 279.4], [-27.2, 278.8], [-18.5, 278.7], [-17.5, 280.25], [-14.3, 279.9], [-12.3, 279.1],
  [-5.3, 277.8], [-9.5, 275.8], [-8.1, 274.9], [-4.3, 274.8], [-7.4, 278.95],
  [6.4, 279.6], [9.2, 279.4], [12.0, 279.2], [14.8, 279.6], [17.5, 279.3], [18.9, 279.5], [22.4, 279.7],
  [25.8, 279.4], [28.6, 279.7], [30.7, 279.5], [34.2, 279.2], [36.9, 279.8], [39.7, 279.6], [42.5, 278.96],
  [46.6, 279.2], [10.6, 278.7], [7.8, 278.96], [16.1, 278.7], [24.5, 278.7], [32.8, 278.5],
  [69.1, 279.1], [62.6, 278.7], [63.6, 278.6], [62.9, 277.6], [60.5, 277.9], [56.3, 277.6], [56.3, 277.0],
  [56.0, 276.7], [58.4, 276.5], [60.8, 276.4], [61.9, 276.7], [50.8, 278.3], [49.4, 277.4], [48.4, 276.9],
  [49.1, 276.3], [84.7, 277.2], [85.8, 277.2], [79.9, 276.9], [81.3, 276.8], [77.5, 276.4], [86.8, 276.5],
  [86.1, 275.4], [68.1, 275.3], [71.6, 273.9], [75.4, 274.3], [74.3, 272.8], [83.3, 273.0], [88.9, 272.7],
  [67.8, 272.0], [62.6, 274.6], [64.6, 274.0], [66.0, 273.5], [59.4, 275.3], [57.7, 274.9], [56.7, 273.9],
  [54.9, 273.0], [51.5, 273.5], [51.5, 275.1], [52.2, 274.6], [44.9, 274.5], [38.3, 274.3], [36.2, 273.9],
  [31.7, 274.6], [25.8, 274.9], [24.8, 274.3], [21.3, 274.4], [21.0, 274.1], [23.8, 275.3], [14.8, 275.1],
  [9.6, 274.6], [8.9, 275.3], [4.0, 274.4], [3.0, 275.9], [1.9, 277.1], [18.9, 275.8], [16.8, 276.5],
  [16.1, 276.4], [18.2, 276.9], [13.4, 277.0], [12.0, 276.4], [11.3, 275.7], [7.8, 277.0], [6.8, 277.3],
  [25.5, 276.7], [31.4, 276.5], [32.1, 276.3], [37.6, 276.4], [39.0, 277.9], [33.1, 278.4], [27.9, 277.7],
  [30.3, 277.3], [27.2, 277.4], [43.2, 278.4], [43.9, 278.2], [48.0, 277.0], [2.3, 278.1], [-1.2, 278.3],
  [6.4, 278.3], [10.6, 278.1], [16.1, 278.1], [21.0, 278.1], [38.7, 278.4]
];

var scatterData = [];
coreSST.forEach(function (sst, i) {
  coreBias[i].forEach(function (b) { scatterData.push([b, sst]); });
});
coreSST2.forEach(function (sst, i) {
  coreBias2[i].forEach(function (b) { scatterData.push([b, sst]); });
});
scatterData = scatterData.concat(neckBand, centreBand, leftEdge, rightEdge, midBand, lowBand);

var boxData = boxSST.map(function (s, i) {
  return [s, whiskerLow[i], q1[i], median[i], q3[i], whiskerHigh[i]];
});

var minorY = [];
for (var v = 266; v < 310; v++) {
  if (v % 10 !== 0) minorY.push(v);
}

var BOX_HALF = 0.81;
var font = "'Liberation Sans', Arial, Helvetica, sans-serif";
var black = '#000';

function xAxisOpt(pos, showLabel) {
  return {
    type: 'value',
    position: pos,
    min: -90,
    max: 90,
    interval: 30,
    splitLine: { show: false },
    axisLine: { show: true, onZero: false, lineStyle: { color: black, width: 2 } },
    axisTick: { show: true, inside: true, length: 32, lineStyle: { color: black, width: 2 } },
    minorTick: { show: true, splitNumber: 5, length: 16, lineStyle: { color: black, width: 2 } },
    axisLabel: {
      show: showLabel,
      color: black,
      fontSize: 33,
      fontFamily: font,
      margin: 8,
      customValues: xTicks
    },
    name: showLabel ? 'GPROF Bias [%]' : '',
    nameLocation: 'middle',
    nameGap: 42,
    nameTextStyle: { color: black, fontSize: 33, fontFamily: font }
  };
}

function yAxisOpt(pos, ticks, len, showLabel) {
  return {
    type: 'value',
    position: pos,
    offset: 0,
    min: 265,
    max: 310,
    splitLine: { show: false },
    axisLine: { show: true, onZero: false, lineStyle: { color: black, width: 2 } },
    axisTick: { show: true, inside: true, length: len, customValues: ticks, lineStyle: { color: black, width: 2 } },
    minorTick: { show: false },
    axisLabel: {
      show: showLabel,
      color: black,
      fontSize: 33,
      fontFamily: font,
      margin: 18,
      customValues: yTicks
    },
    name: showLabel ? 'SST [K]' : '',
    nameLocation: 'middle',
    nameGap: 92,
    nameTextStyle: { color: black, fontSize: 33, fontFamily: font }
  };
}

var chart = echarts.init(document.getElementById('chart'), null, { renderer: 'canvas' });

chart.setOption({
  animation: false,
  backgroundColor: '#fff',
  grid: { left: 136, right: 22, top: 21, bottom: 77, containLabel: false, outerBoundsMode: 'none' },
  xAxis: [xAxisOpt('bottom', true), xAxisOpt('top', false)],
  yAxis: [
    yAxisOpt('left', yTicks, 32, true),
    yAxisOpt('right', yTicks, 32, false),
    yAxisOpt('left', minorY, 16, false),
    yAxisOpt('right', minorY, 16, false)
  ],
  series: [
    {
      type: 'scatter',
      name: 'samples',
      data: scatterData,
      symbol: 'circle',
      symbolSize: 13,
      silent: true,
      progressive: 0,
      z: 2,
      itemStyle: { color: 'rgba(0,0,0,0)', borderColor: '#a9a9a9', borderWidth: 2, opacity: 1 },
      emphasis: { disabled: true }
    },
    {
      type: 'line',
      name: 'zero',
      data: zeroLine,
      showSymbol: false,
      silent: true,
      z: 3,
      lineStyle: { color: 'rgba(0,0,0,0.5)', width: 1.5, type: [18, 5, 2, 7] }
    },
    {
      type: 'custom',
      name: 'boxes',
      data: boxData,
      z: 4,
      silent: true,
      encode: { x: [1, 2, 3, 4, 5], y: 0 },
      renderItem: function (params, api) {
        var sst = api.value(0);
        var lo = api.coord([api.value(1), sst]);
        var a = api.coord([api.value(2), sst + BOX_HALF]);
        var b = api.coord([api.value(4), sst - BOX_HALF]);
        var med = api.coord([api.value(3), sst]);
        var hi = api.coord([api.value(5), sst]);
        var top = a[1], bot = b[1], mid = lo[1];
        var whisker = { stroke: 'rgba(0,0,0,0.47)', lineWidth: 1.5 };
        return {
          type: 'group',
          children: [
            { type: 'line', shape: { x1: lo[0], y1: mid, x2: a[0], y2: mid }, style: whisker },
            { type: 'line', shape: { x1: b[0], y1: mid, x2: hi[0], y2: mid }, style: whisker },
            { type: 'line', shape: { x1: lo[0], y1: top, x2: lo[0], y2: bot }, style: whisker },
            { type: 'line', shape: { x1: hi[0], y1: top, x2: hi[0], y2: bot }, style: whisker },
            {
              type: 'rect',
              shape: { x: a[0], y: top, width: b[0] - a[0], height: bot - top },
              style: { fill: 'rgba(0,116,0,0.42)', stroke: 'rgba(0,0,0,0.5)', lineWidth: 1.5 }
            },
            {
              type: 'line',
              shape: { x1: med[0], y1: top, x2: med[0], y2: bot },
              style: { stroke: 'rgba(0,0,0,0.6)', lineWidth: 2 }
            }
          ]
        };
      }
    }
  ]
});
</script>
</body>
</html>
